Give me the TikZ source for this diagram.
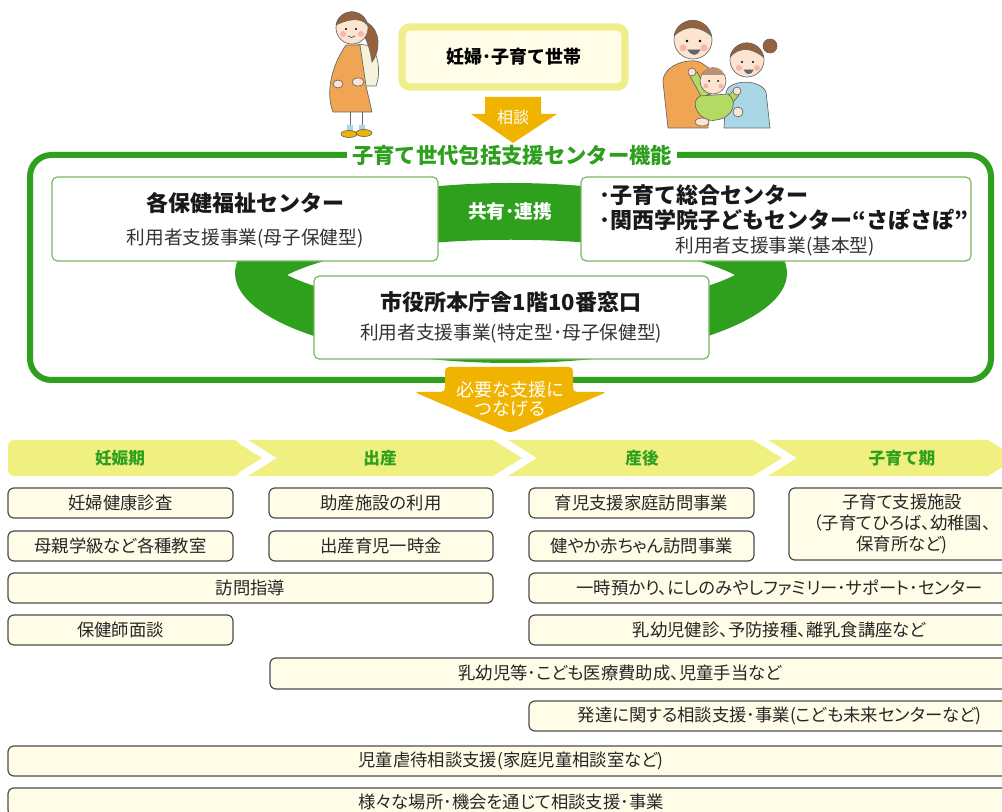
\documentclass[tikz,border=0pt]{standalone}
\usepackage{fontspec}
\setmainfont{Noto Sans CJK JP}
\newfontfamily\propfont{Noto Sans CJK JP}[RawFeature=+palt]
\usetikzlibrary{fit,calc}

\definecolor{hubgreen}{RGB}{46,160,30}
\definecolor{linkgreen}{RGB}{120,184,96}
\definecolor{arrowgold}{RGB}{240,180,0}
\definecolor{phaseyellow}{RGB}{240,240,128}
\definecolor{paleyellow}{RGB}{240,238,140}
\definecolor{cream}{RGB}{255,253,232}
\definecolor{skin}{RGB}{253,228,208}
\definecolor{hair}{RGB}{150,98,62}
\definecolor{dress}{RGB}{240,165,85}
\definecolor{cardigan}{RGB}{245,242,220}
\definecolor{shirtblue}{RGB}{170,215,230}
\definecolor{babygreen}{RGB}{180,218,100}
\definecolor{cheek}{RGB}{250,180,170}

\begin{document}
\begin{tikzpicture}[x=0.75pt, y=-0.75pt,
    head/.style={font=\fontsize{16.5}{19}\selectfont\bfseries, text=black!90},
    sub/.style={font=\fontsize{14}{16}\selectfont, text=black!80},
    centerbox/.style={draw=linkgreen, line width=0.9pt, fill=white, rounded corners=4pt, inner sep=0pt},
    item/.style={draw=black!70, line width=0.9pt, fill=cream, rounded corners=4.5pt, inner sep=0pt},
    itemtext/.style={font=\propfont\fontsize{13}{16}\selectfont, text=black!85, align=center},
    phase/.style={fill=phaseyellow},
    phaselabel/.style={font=\fontsize{12.5}{15}\selectfont\bfseries, text=hubgreen},
    bigarrow/.style={fill=arrowgold},
    ink/.style={draw=black!60, line width=0.5pt},
  ]
  \useasboundingbox (0,0) rectangle (1002,812);
  \clip (0,0) rectangle (1002,812);

  % pregnant woman
  \draw[black!60, line width=0.7pt] (350,112) -- (350,130) (362,112) -- (362,130);
  \fill[shirtblue] (347,125) rectangle (353,131) (359,125) rectangle (365,131);
  \filldraw[ink, fill=arrowgold] (349,134) ellipse [x radius=8, y radius=3.5] (364,133) ellipse [x radius=8, y radius=3.5];
  \filldraw[ink, fill=cardigan] (358,44) -- (372,46) .. controls (380,60) and (380,76) .. (376,86) -- (364,86) -- cycle;
  \filldraw[ink, fill=dress] (346,45) -- (360,45) -- (366,86) -- (372,112) -- (333,112)
    .. controls (326,95) and (330,68) .. (346,45);
  \filldraw[ink, fill=skin] (338,84) ellipse [x radius=5, y radius=4] (358,82) ellipse [x radius=6, y radius=4];
  \filldraw[ink, fill=hair] (366,22) .. controls (382,30) and (380,52) .. (372,62)
    .. controls (370,48) and (366,38) .. (362,32) -- cycle;
  \filldraw[ink, fill=skin] (352,28) circle [radius=16];
  \filldraw[ink, fill=hair] (336,25) arc [start angle=190, end angle=350, radius=16]
    .. controls (360,16) and (346,20) .. (336,25);
  \fill[cheek] (343,34) circle [radius=3] (361,34) circle [radius=3];
  \fill (346,29) circle [radius=1.2] (356,29) circle [radius=1.2];
  \draw[black!70, line width=0.5pt] (348,36) .. controls (350,38) and (353,38) .. (355,36);

  % family
  \filldraw[ink, fill=dress] (668,128) -- (663,82) .. controls (663,64) and (690,58) .. (700,62)
    -- (712,70) -- (708,128) -- cycle;
  \filldraw[ink, fill=shirtblue] (724,128) -- (726,92) .. controls (728,80) and (760,78) .. (766,92)
    -- (770,128) -- cycle;
  \filldraw[ink, fill=skin] (693,40) circle [radius=19];
  \filldraw[ink, fill=hair] (674,36) arc [start angle=190, end angle=350, radius=19]
    .. controls (700,26) and (686,24) .. (674,36);
  \fill[cheek] (683,48) circle [radius=3.5] (704,48) circle [radius=3.5];
  \fill (687,41) circle [radius=1.3] (700,41) circle [radius=1.3];
  \filldraw[ink, fill=black!60] (688,50) .. controls (692,56) and (697,56) .. (700,50) -- cycle;
  \filldraw[ink, fill=hair] (770,46) circle [radius=7];
  \filldraw[ink, fill=skin] (747,60) circle [radius=17];
  \filldraw[ink, fill=hair] (730,57) arc [start angle=190, end angle=350, radius=17]
    .. controls (752,48) and (740,46) .. (730,57);
  \fill[cheek] (739,68) circle [radius=3] (757,68) circle [radius=3];
  \fill (742,62) circle [radius=1.2] (753,62) circle [radius=1.2];
  \filldraw[ink, fill=black!60] (744,70) .. controls (747,75) and (751,75) .. (753,70) -- cycle;
  \filldraw[ink, fill=babygreen] (702,98) -- (690,76) -- (697,72) -- (709,94) -- cycle;
  \filldraw[ink, fill=babygreen] (724,100) -- (734,90) -- (739,95) -- (730,106) -- cycle;
  \filldraw[ink, fill=babygreen] (700,96) .. controls (688,102) and (700,124) .. (716,120)
    .. controls (734,118) and (738,100) .. (728,94) -- cycle;
  \filldraw[ink, fill=skin] (692,72) circle [radius=4] (737,91) circle [radius=4];
  \filldraw[ink, fill=skin] (702,122) ellipse [x radius=7, y radius=4] (738,112) ellipse [x radius=5, y radius=5];
  \filldraw[ink, fill=skin] (713,81) circle [radius=13];
  \fill[hair!70] (702,75) arc [start angle=200, end angle=340, radius=12] -- cycle;
  \fill[cheek] (706,86) circle [radius=2.5] (721,86) circle [radius=2.5];
  \fill (709,81) circle [radius=1] (718,81) circle [radius=1];

  % household and consultation arrow
  \node[fit={(402,27)(625,87)}, inner sep=0pt, draw=paleyellow, line width=5.5pt, fill=cream,
    rounded corners=6pt, label={[font=\fontsize{13.5}{16}\selectfont\bfseries]center:妊婦･子育て世帯}] (household) {};
  \fill[bigarrow] (485,97) -- (541,97) -- (541,114) -- (557,114) -- (513,143) -- (471,114) -- (485,114) -- cycle;
  \node[white, font=\fontsize{12}{14}\selectfont] (soudan) at (513,117) {相談};

  % support center frame
  \draw[hubgreen, line width=4.5pt, rounded corners=16pt] (30,155) rectangle (991,380);
  \node[fill=white, inner xsep=4pt, inner ysep=1pt, text=hubgreen,
    font=\fontsize{16}{19}\selectfont\bfseries] (hubtitle) at (512,155) {子育て世代包括支援センター機能};

  % ring linking the three counters
  \fill[hubgreen, even odd rule] (511,273) ellipse [x radius=276, y radius=90]
    (287,275) .. controls (380,228) and (642,228) .. (735,275)
    .. controls (642,322) and (380,322) .. (287,275);
  \node[white, font=\fontsize{14}{17}\selectfont\bfseries] (share) at (510,211) {共有･連携};

  \node[centerbox, fit={(52,177)(438,261)}] (hoken) {};
  \node[head] (hoken-t) at (245,203) {各保健福祉センター};
  \node[sub] (hoken-s) at (245,238) {利用者支援事業(母子保健型)};

  \node[centerbox, fit={(581,177)(971,261)}] (sogo) {};
  \node[head, anchor=west, inner sep=0pt] (sogo-a) at (599,195) {･子育て総合センター};
  \node[head, anchor=west, inner sep=0pt] (sogo-b) at (599,220) {･関西学院子どもセンター“さぽさぽ”};
  \node[sub] (sogo-s) at (775,246) {利用者支援事業(基本型)};

  \node[centerbox, fit={(314,276)(709,359)}] (madoguchi) {};
  \node[head] (madoguchi-t) at (511,302) {市役所本庁舎1階10番窓口};
  \node[sub] (madoguchi-s) at (511,333) {利用者支援事業(特定型･母子保健型)};

  % arrow down to the services
  \fill[bigarrow, rounded corners=3pt] (445,392) -- (445,367) -- (573,367) -- (573,392)
    -- (607,392) -- (510,433) -- (414,392) -- cycle;
  \node[white, font=\fontsize{13.5}{14.5}\selectfont, align=center] (connect) at (510,399) {必要な支援に\\つなげる};

  % life stages
  \fill[phase, rounded corners=4pt] (8,440) rectangle (240,476);
  \fill[phase] (230,440) -- (233,440) -- (262,458) -- (233,476) -- (230,476) -- cycle;
  \foreach \l/\r in {248/493, 508/753, 768/988}
    \fill[phase] (\l,440) -- (\r,440) -- (\r+29,458) -- (\r,476) -- (\l,476) -- (\l+29,458) -- cycle;
  \foreach \x/\t/\nm in {120/妊娠期/ninshin, 380/出産/shussan, 642/産後/sango, 902/子育て期/kosodate}
    \node[phaselabel] (\nm) at (\x,458) {\t};

  % services
  \node[item, fit={(8,488)(233,518)}, label={[itemtext]center:妊婦健康診査}] (kenshin) {};
  \node[item, fit={(8,531)(233,561)}, label={[itemtext]center:母親学級など各種教室}] (kyoshitsu) {};
  \node[item, fit={(8,573)(493,603)}, label={[itemtext]center:訪問指導}] (homon) {};
  \node[item, fit={(8,615)(233,645)}, label={[itemtext]center:保健師面談}] (hokenshi) {};
  \node[item, fit={(269,488)(493,518)}, label={[itemtext]center:助産施設の利用}] (josan) {};
  \node[item, fit={(269,531)(493,561)}, label={[itemtext]center:出産育児一時金}] (ichijikin) {};
  \node[item, fit={(529,488)(754,518)}, label={[itemtext]center:育児支援家庭訪問事業}] (ikuji) {};
  \node[item, fit={(529,531)(754,561)}, label={[itemtext]center:健やか赤ちゃん訪問事業}] (sukoyaka) {};
  \node[item, fit={(789,488)(1015,560)},
    label={[itemtext]center:{子育て支援施設\\（子育てひろば、幼稚園、\\保育所など)}}] (shisetsu) {};
  \node[item, fit={(529,573)(1030,603)},
    label={[itemtext]center:一時預かり、にしのみやしファミリー･サポート･センター}] (azukari) {};
  \node[item, fit={(529,615)(1030,645)}, label={[itemtext]center:乳幼児健診、予防接種、離乳食講座など}] (nyuyoji) {};
  \node[item, fit={(270,658)(1030,689)}] (josei) {};
  \node[itemtext] (josei-t) at (620,673) {乳幼児等･こども医療費助成、児童手当など};
  \node[item, fit={(529,701)(1030,731)},
    label={[itemtext]center:発達に関する相談支援･事業(こども未来センターなど)}] (hattatsu) {};
  \node[item, fit={(8,746)(1014,776)}, label={[itemtext]center:児童虐待相談支援(家庭児童相談室など)}] (gyakutai) {};
  \node[item, fit={(8,788)(1014,816)}, label={[itemtext]center:様々な場所･機会を通じて相談支援･事業}] (basho) {};
\end{tikzpicture}
\end{document}
